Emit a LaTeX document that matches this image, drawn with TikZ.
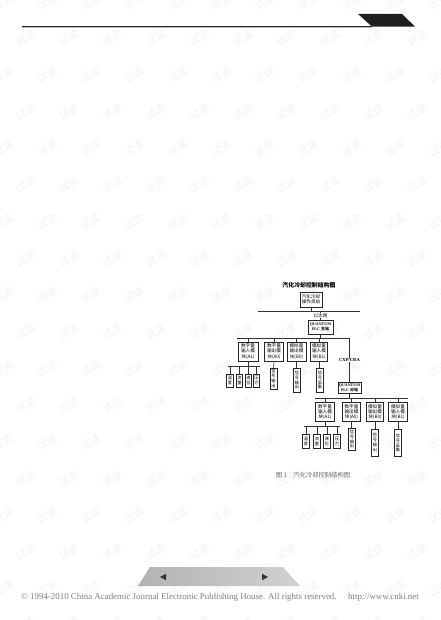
\documentclass[tikz,border=0pt]{standalone}
\usepackage{fontspec}
\setmainfont{Liberation Serif}
\newfontfamily\cjk{Noto Sans CJK SC}
\begin{document}
\begin{tikzpicture}[x=1pt,y=-1pt,
  box/.style={draw=black!85, line width=0.6pt, fill=white, inner sep=0pt, align=center,
              font=\cjk\fontsize{4.6}{5.3}\selectfont},
  modbox/.style={box, minimum height=19pt},
  tallbox/.style={box, minimum width=7pt, font=\cjk\fontsize{4.2}{4.9}\selectfont},
  smallbox/.style={box, minimum width=6.5pt, minimum height=13pt, font=\cjk\fontsize{4.2}{4.9}\selectfont},
  conn/.style={draw=black!80, line width=0.6pt},
  lbl/.style={fill=white, inner sep=0.4pt},
  wm/.style={text=black!5, rotate=30, font=\cjk\fontsize{10.5}{10.5}\selectfont}
]
\useasboundingbox (0,0) rectangle (440,620);
\fill[white] (0,0) rectangle (440,620);

% watermarks
\foreach \k in {0,...,17}{
  \foreach \j in {0,...,10}{
    \pgfmathsetmacro\wx{3.5+43.5*\j-21.75*mod(\k,2)}
    \pgfmathsetmacro\wy{1.6+36.7*\k}
    \node[wm] (wm-\k-\j) at (\wx,\wy) {试读};
  }
}

% header
\coordinate (hl) at (22,26);
\coordinate (hr) at (372,26);
\draw[black!25, line width=1.2pt] ([yshift=-1.3pt]hl) -- ([yshift=-1.3pt]hr);
\draw[black!85, line width=0.8pt] (hl) -- (hr);
\fill[black!88] (358,14) -- (402,14) -- (415,26.6) -- (372,26.6) -- cycle;

% footer
\shade[left color=black!30, middle color=white, right color=black!18] (150,567) -- (283,567) -- (300,586) -- (138,586) -- cycle;
\fill[black!80] (160,577) -- (166,573.8) -- (166,580.2) -- cycle;
\fill[black!80] (268,577) -- (262,573.8) -- (262,580.2) -- cycle;
\node[font=\fontsize{8.9}{10}\selectfont, text=black!50, inner sep=0pt] (copy) at (220,597)
  {© 1994-2010 China Academic Journal Electronic Publishing House. All rights reserved.\hspace{1.3em}http://www.cnki.net};

% diagram
\node[font=\cjk\bfseries\fontsize{5.9}{6}\selectfont] (title) at (309,285) {汽化冷却控制结构图};
\node[box, minimum width=22pt, minimum height=15pt] (ops) at (311,299.5) {汽化冷却\\操作员站};

\coordinate (b1l) at (258,311);
\coordinate (b1r) at (360,311);
\draw[conn] (b1l) -- (b1r);
\draw[conn] (ops.south) -- (ops.south |- b1l);

\node[box, minimum width=25pt, minimum height=14pt, font=\fontsize{4}{5.2}\selectfont\bfseries] (qm) at (320.5,327) {QUANTUM\\PLC {\cjk 主站}};
\draw[conn] (qm.north |- b1l) -- (qm.north);
\node[lbl, font=\cjk\fontsize{4.6}{5}\selectfont] (eth) at (320.5,315.5) {以太网};

\coordinate (b2l) at (237,338);
\coordinate (b2r) at (349.5,338);
\draw[conn] (b2l) -- (b2r);
\draw[conn] (qm.south) -- (qm.south |- b2l);

\node[modbox, minimum width=20pt] (ma) at (248,351.5) {数字量\\输入模\\块(A1)};
\node[modbox, minimum width=18.5pt] (mb) at (274,351.5) {数字量\\输出模\\块(A0)};
\node[modbox, minimum width=19pt] (mc) at (296.5,351.5) {模拟量\\输出模\\块(B0)};
\node[modbox, minimum width=17pt] (md) at (319,351.5) {模拟量\\输入模\\块(B1)};
\foreach \m in {ma,mb,mc,md}{ \draw[conn] (\m.north |- b2l) -- (\m.north); }

% small sensors upper
\coordinate (s1l) at (228,366);
\coordinate (s1r) at (260,366);
\draw[conn] (s1l) -- (s1r);
\draw[conn] (ma.south) -- (ma.south |- s1l);
\node[smallbox] (u1) at (230,380.3) {温\\度};
\node[smallbox] (u2) at (239.5,380.3) {流\\量};
\node[smallbox] (u3) at (248.5,380.3) {液\\位};
\node[smallbox] (u4) at (256.5,380.3) {压\\力};
\foreach \s in {u1,u2,u3,u4}{ \draw[conn] (\s.north |- s1l) -- (\s.north); }

\node[tallbox, minimum height=21pt] (tb) at (273.5,378.5) {信\\号\\输\\出};
\node[tallbox, minimum height=24pt] (tc) at (297,380) {信\\号\\输\\出};
\node[tallbox, minimum height=24pt] (td) at (320,380) {信\\号\\采\\集};
\draw[conn] (mb.south) -- (tb.north);
\draw[conn] (mc.south) -- (mc.south |- tc.north);
\draw[conn] (md.south) -- (md.south |- td.north);

% substation
\node[box, minimum width=23pt, minimum height=11pt, font=\fontsize{4}{4.8}\selectfont\bfseries] (qs) at (349.5,387.5) {QUANTUM\\PLC {\cjk 分站}};
\draw[conn] (b2r) -- (qs.north);
\node[lbl, font=\fontsize{4.6}{5}\selectfont\bfseries] (cxp) at (349.5,360) {CXP/CRA};

\coordinate (b3l) at (315,398);
\coordinate (b3r) at (408,398);
\draw[conn] (b3l) -- (b3r);
\draw[conn] (qs.south) -- (qs.south |- b3l);

\node[modbox, minimum width=19pt] (na) at (325,412) {数字量\\输入模\\块(A1)};
\node[modbox, minimum width=17.5pt] (nb) at (351.5,412) {数字量\\输出模\\块(A0)};
\node[modbox, minimum width=17.5pt] (nc) at (375,412) {模拟量\\输出模\\块(B0)};
\node[modbox, minimum width=18.5pt] (nd) at (398,412) {模拟量\\输入模\\块(B1)};
\foreach \m in {na,nb,nc,nd}{ \draw[conn] (\m.north |- b3l) -- (\m.north); }

\coordinate (s2l) at (304,426);
\coordinate (s2r) at (340,426);
\draw[conn] (s2l) -- (s2r);
\draw[conn] (na.south) -- (na.south |- s2l);
\node[smallbox, minimum height=13.5pt] (v1) at (306,441.3) {温\\度};
\node[smallbox, minimum height=13.5pt] (v2) at (317,441.3) {流\\量};
\node[smallbox, minimum height=13.5pt] (v3) at (327,441.3) {液\\位};
\node[smallbox, minimum height=13.5pt] (v4) at (337,441.3) {压\\力};
\foreach \s in {v1,v2,v3,v4}{ \draw[conn] (\s.north |- s2l) -- (\s.north); }

\node[tallbox, minimum height=22pt] (ub) at (352,439) {信\\号\\输\\出};
\node[tallbox, minimum height=27pt] (uc) at (375,442.5) {信\\号\\输\\出};
\node[tallbox, minimum height=27pt] (ud) at (398,443) {信\\号\\采\\集};
\draw[conn] (nb.south) -- (nb.south |- ub.north);
\draw[conn] (nc.south) -- (nc.south |- uc.north);
\draw[conn] (nd.south) -- (nd.south |- ud.north);

\node[font=\cjk\fontsize{6.3}{7}\selectfont, text=black!60] (cap) at (313,475) {图 1\quad 汽化冷却控制结构图};
\end{tikzpicture}
\end{document}
